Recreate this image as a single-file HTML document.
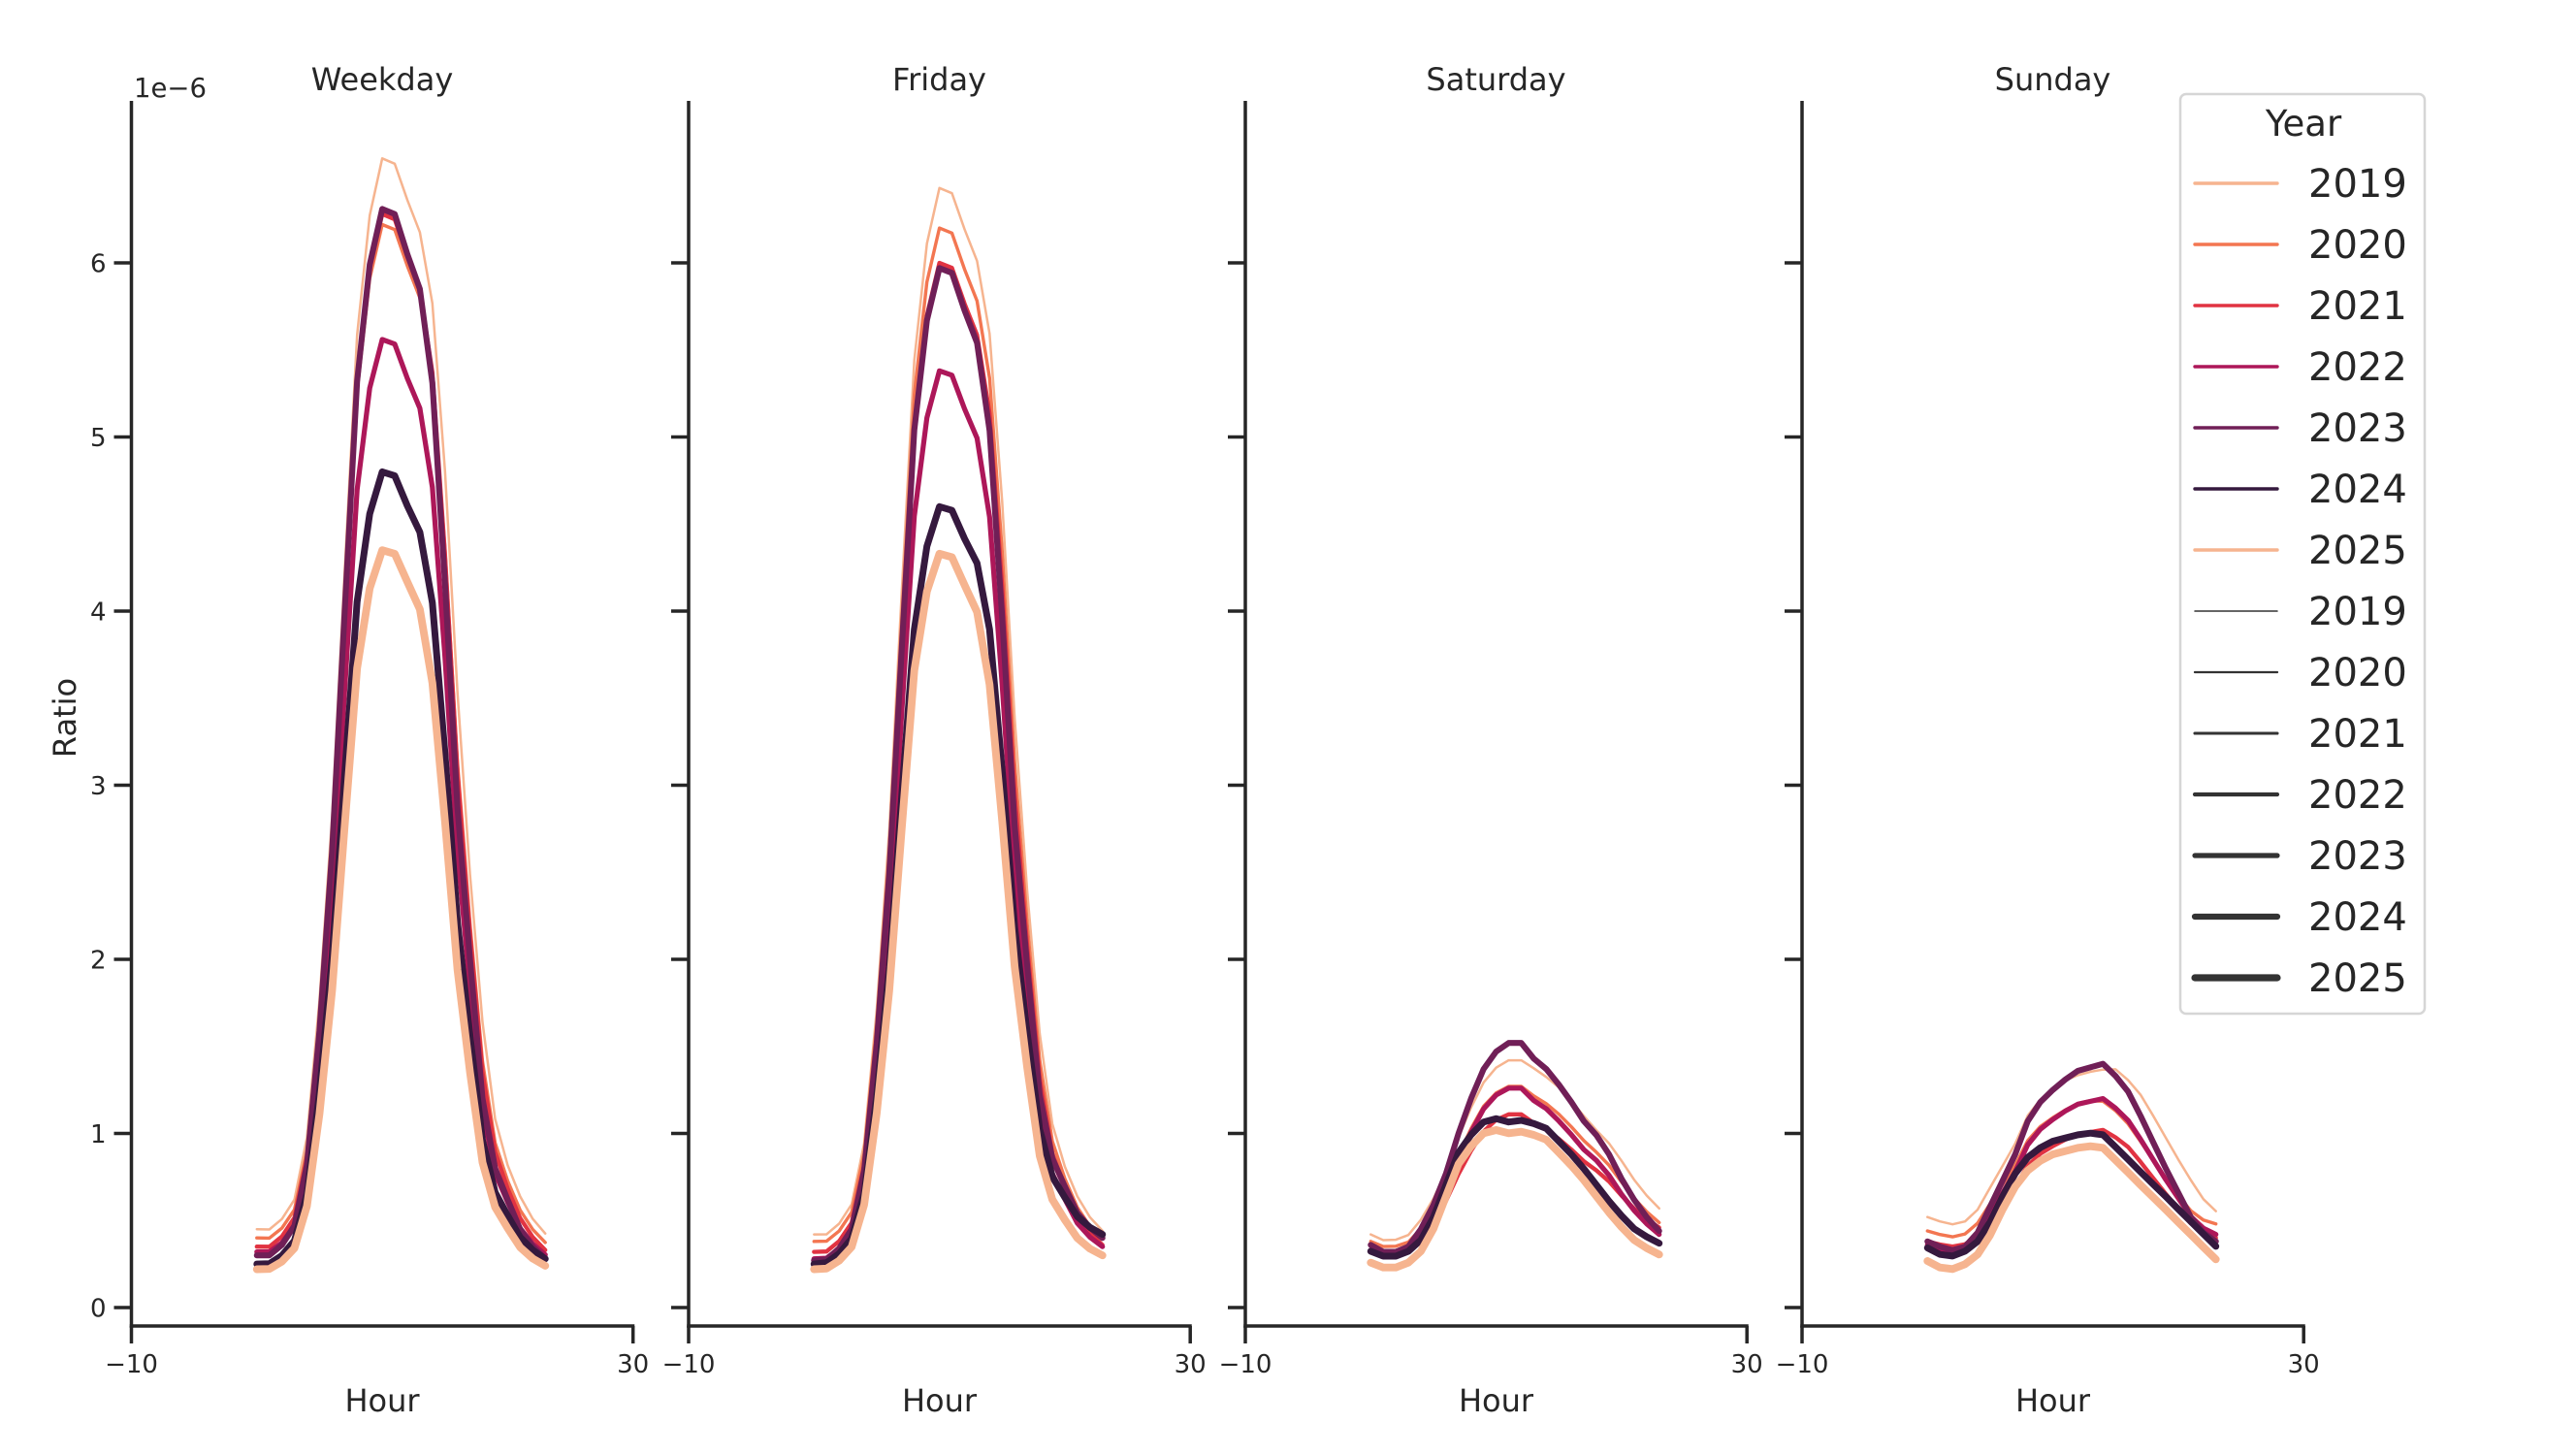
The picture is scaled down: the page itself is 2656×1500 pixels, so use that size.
<!DOCTYPE html>
<html><head><meta charset="utf-8"><style>
html,body{margin:0;padding:0;background:#fff;}
svg{display:block;}
text{font-family:"DejaVu Sans","Liberation Sans",sans-serif;fill:#262626;}
</style></head><body>
<svg id="s" width="2656" height="1500" viewBox="0 0 2656 1500" xmlns="http://www.w3.org/2000/svg">
<rect width="2656" height="1500" fill="#fff"/>
<g id="g"></g>
</svg>
<script>
const NS="http://www.w3.org/2000/svg";
const G=document.getElementById('g');
function el(t,a,txt){const e=document.createElementNS(NS,t);for(const k in a)e.setAttribute(k,a[k]);if(txt!==undefined)e.textContent=txt;G.appendChild(e);return e;}
const AX=[135.5,710,1284,1858], XS=12.93, Y0=1348, YS=179.5, YTOP=104, YAX=1367, W=517;
const titles=["Weekday","Friday","Saturday","Sunday"];
const cols=["#f6b48f","#f37651","#e13342","#ad1759","#701f57","#35193e","#f6b48f"];
const lw=[2.5,3.4,4.3,5.2,6.1,7.0,7.9];
const WD=[0.30,0.30,0.36,0.47,0.82,1.59,2.62,3.99,5.32,5.99,6.31,6.28,6.05,5.85,5.31,4.16,2.87,2.0,1.2,0.8,0.62,0.45,0.35,0.28];
const SAT=[0.36,0.32,0.32,0.35,0.45,0.59,0.77,1.0,1.2,1.37,1.47,1.52,1.52,1.43,1.37,1.28,1.18,1.07,0.99,0.88,0.74,0.62,0.52,0.44];
const SUN=[0.38,0.35,0.33,0.35,0.43,0.58,0.73,0.88,1.07,1.18,1.25,1.31,1.36,1.38,1.40,1.33,1.24,1.10,0.95,0.80,0.66,0.52,0.43,0.38];
const SAT25=[905,920,920,905,870,800,700,600,545,505,495,505,500,510,525,565,605,650,700,750,795,835,860,880].map(z=>(348-z/3)/179.5);
const SUN25=[780,800,805,790,760,700,620,550,500,470,450,440,430,425,430,468,506,545,583,621,660,698,737,775].map(z=>(308-z/3)/179.5);
function samp(B,h){if(h<=0)return B[0];if(h>=23)return B[23];const i=Math.floor(h),f=h-i;return B[i]*(1-f)+B[i+1]*f;}
function gen(B,lo,pk,end,shift){
  const b0=B[0],b1=B[23],bp=Math.max(...B);const out=[];
  for(let h=0;h<24;h++){
    let hh=h; if(shift&&h>11) hh=h-shift*Math.min(1,(h-11)/3);
    const b=samp(B,hh);const L=lo+(end-lo)*h/23, BL=b0+(b1-b0)*h/23;
    out.push(L+(b-BL)/(bp-BL)*(pk-L));
  }return out;}
const data=[
 [gen(WD,.45,6.6,.40,.35),gen(WD,.40,6.22,.36,.2),gen(WD,.35,6.28,.32,.15),gen(WD,.32,5.56,.30,.05),WD,gen(WD,.25,4.8,.28,0),gen(WD,.22,4.35,.24,-.1)],
 [gen(WD,.42,6.43,.42,.3),gen(WD,.38,6.2,.38,.2),gen(WD,.32,6.0,.35,.15),gen(WD,.28,5.38,.35,0),gen(WD,.27,5.97,.40,0),gen(WD,.25,4.6,.42,0),gen(WD,.22,4.33,.30,-.1)],
 [gen(SAT,.42,1.42,.53,.6),gen(SAT,.38,1.27,.47,.3),gen(SAT,.32,1.11,.45,.2),gen(SAT,.33,1.26,.42,0),SAT,SAT25.map(v=>v+0.065),SAT25],
 [gen(SUN,.52,1.38,.52,.8),gen(SUN,.44,1.2,.48,-.3),gen(SUN,.38,1.02,.40,0),gen(SUN,.36,1.2,.42,0),SUN,SUN25.map(v=>v+0.075),SUN25]
];
for(let p=0;p<4;p++){
  const a=AX[p];
  el('text',{x:a+W/2,y:93,'font-size':32,'text-anchor':'middle'},titles[p]);
  for(let y=0;y<7;y++){const yy=Y0-YS*y;el('line',{x1:a-18,x2:a,y1:yy,y2:yy,stroke:'#262626','stroke-width':3.5});
    if(p==0)el('text',{x:a-26,y:yy+9.5,'font-size':26,'text-anchor':'end'},String(y));}
  for(const [xv,lab] of [[-10,'\u221210'],[30,'30']]){const xx=a+XS*(xv+10);
    el('line',{x1:xx,x2:xx,y1:YAX,y2:YAX+18,stroke:'#262626','stroke-width':3.5});
    el('text',{x:xx,y:1415,'font-size':26,'text-anchor':'middle'},lab);}
  el('text',{x:a+W/2,y:1455,'font-size':32,'text-anchor':'middle'},'Hour');
  const d=data[p];
  for(let k=0;k<7;k++){
    const pts=d[k].map((v,h)=>(a+XS*(h+10)).toFixed(1)+','+(Y0-YS*v).toFixed(1)).join(' ');
    el('polyline',{points:pts,fill:'none',stroke:cols[k],'stroke-width':lw[k],'stroke-linejoin':'round','stroke-linecap':'round'});
  }
  el('line',{x1:a,x2:a,y1:YTOP,y2:YAX+1.75,stroke:'#262626','stroke-width':3.5});
  el('line',{x1:a-1.75,x2:a+W+1.75,y1:YAX,y2:YAX,stroke:'#262626','stroke-width':3.5});
}
el('text',{x:138,y:100,'font-size':27.5},'1e\u22126');
el('text',{x:0,y:0,'font-size':32,'text-anchor':'middle',transform:'translate(78,740) rotate(-90)'},'Ratio');
el('rect',{x:2248,y:97,width:252,height:948,rx:6,fill:'#fff',stroke:'#d6d6d6','stroke-width':2.5});
el('text',{x:2375,y:140,'font-size':37,'text-anchor':'middle'},'Year');
const yrs=['2019','2020','2021','2022','2023','2024','2025'];
const slw=[1.5,2.3,3.1,4.2,5.2,6.2,7.2];
for(let i=0;i<14;i++){
  const y=189+63*i;
  const c=i<7?cols[i]:'#333333', w=i<7?3.4:slw[i-7];
  el('line',{x1:2263,x2:2348,y1:y,y2:y,stroke:c,'stroke-width':w,'stroke-linecap':'round'});
  el('text',{x:2380,y:y+14,'font-size':40},yrs[i%7]);
}
</script>
</body></html>
